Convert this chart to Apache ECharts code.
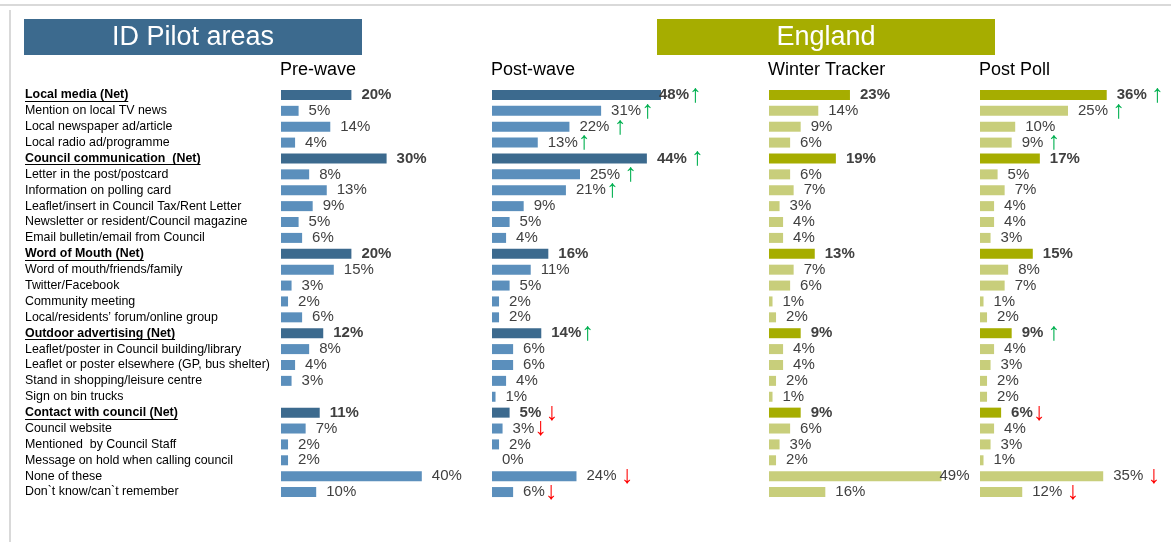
<!DOCTYPE html>
<html>
<head>
<meta charset="utf-8">
<script src="https://cdn.jsdelivr.net/npm/echarts@6/dist/echarts.min.js"></script>
<style>
  html, body { margin: 0; padding: 0; background: #fff; }
  #chart { width: 1171px; height: 542px; }
</style>
</head>
<body>
<div id="chart"></div>
<script>
// categories, top to bottom
const categories = [
  "Local media (Net)",
  "Mention on local TV news",
  "Local newspaper ad/article",
  "Local radio ad/programme",
  "Council communication  (Net)",
  "Letter in the post/postcard",
  "Information on polling card",
  "Leaflet/insert in Council Tax/Rent Letter",
  "Newsletter or resident/Council magazine",
  "Email bulletin/email from Council",
  "Word of Mouth (Net)",
  "Word of mouth/friends/family",
  "Twitter/Facebook",
  "Community meeting",
  "Local/residents\u2019 forum/online group",
  "Outdoor advertising (Net)",
  "Leaflet/poster in Council building/library",
  "Leaflet or poster elsewhere (GP, bus shelter)",
  "Stand in shopping/leisure centre",
  "Sign on bin trucks",
  "Contact with council (Net)",
  "Council website",
  "Mentioned  by Council Staff",
  "Message on hold when calling council",
  "None of these",
  "Don`t know/can`t remember"
];

const columnTitles = ["Pre-wave", "Post-wave", "Winter Tracker", "Post Poll"];

const preWave    = [20, 5, 14, 4, 30, 8, 13, 9, 5, 6, 20, 15, 3, 2, 6, 12, 8, 4, 3, null, 11, 7, 2, 2, 40, 10];
const postWave   = [48, 31, 22, 13, 44, 25, 21, 9, 5, 4, 16, 11, 5, 2, 2, 14, 6, 6, 4, 1, 5, 3, 2, 0, 24, 6];
const winter     = [23, 14, 9, 6, 19, 6, 7, 3, 4, 4, 13, 7, 6, 1, 2, 9, 4, 4, 2, 1, 9, 6, 3, 2, 49, 16];
const postPoll   = [36, 25, 10, 9, 17, 5, 7, 4, 4, 3, 15, 8, 7, 1, 2, 9, 4, 3, 2, 2, 6, 4, 3, 1, 35, 12];

// significance markers after the labels ("" = none)
const preWaveSig  = Array(26).fill("");
const postWaveSig = ["\u2191", "\u2191", " \u2191", "\u2191", " \u2191", " \u2191", "\u2191", "", "", "", "", "", "", "", "", "\u2191", "", "", "", "", " \u2193", "\u2193", "", "", " \u2193", "\u2193"];
const winterSig   = Array(26).fill("");
const postPollSig = [" \u2191", " \u2191", "", " \u2191", "", "", "", "", "", "", "", "", "", "", "", " \u2191", "", "", "", "", "\u2193", "", "", "", " \u2193", " \u2193"];

const FONT = "'Liberation Sans', Arial, sans-serif";
const isNet = (i) => categories[i].indexOf("(Net)") >= 0;

const colLeft = [281, 492, 769, 980];
const GRID_TOP = 87, GRID_H = 413, GRID_W = 176, AXIS_MAX = 50;

const blueDark = "#3c6a8e", blueLight = "#5b8fbc";
const oliveDark = "#a6ad00", oliveLight = "#c8ce7b";

const seriesData = [preWave, postWave, winter, postPoll];
const seriesSig = [preWaveSig, postWaveSig, winterSig, postPollSig];
const seriesColors = [[blueDark, blueLight], [blueDark, blueLight], [oliveDark, oliveLight], [oliveDark, oliveLight]];

const chart = echarts.init(document.getElementById("chart"));

const option = {
  animation: false,
  backgroundColor: "#fff",
  grid: colLeft.map(l => ({ left: l, top: GRID_TOP, width: GRID_W, height: GRID_H })),
  xAxis: colLeft.map((l, k) => ({
    type: "value", gridIndex: k, min: 0, max: AXIS_MAX, show: false
  })),
  yAxis: colLeft.map((l, k) => ({
    type: "category", gridIndex: k, inverse: true, data: categories,
    show: k === 0,
    axisLine: { show: false }, axisTick: { show: false }, splitLine: { show: false },
    axisLabel: {
      show: k === 0,
      align: "left",
      margin: 256,
      fontFamily: FONT, fontSize: 12.4, color: "#000",
      formatter: (v) => v.indexOf("(Net)") >= 0 ? "{b|" + v + "}" : v,
      rich: { b: { fontWeight: "bold", fontFamily: FONT, fontSize: 12.4, color: "#000" } }
    }
  })),
  series: seriesData.map((data, k) => ({
    type: "bar",
    xAxisIndex: k, yAxisIndex: k,
    barWidth: 10,
    // long bars get their label pulled in to the bar end
    data: data.map(v => (v !== null && v >= 45) ? { value: v, label: { distance: -2 } } : v),
    itemStyle: {
      color: (p) => isNet(p.dataIndex) ? seriesColors[k][0] : seriesColors[k][1]
    },
    label: {
      show: true,
      position: "right",
      distance: 10,
      fontFamily: FONT,
      formatter: (p) => {
        const style = isNet(p.dataIndex) ? "vb" : "v";
        const sig = seriesSig[k][p.dataIndex];
        let s = "{" + style + "|" + p.value + "%}";
        if (sig) {
          const sp = sig.charAt(0) === " " ? "{sp| }" : "";
          const ar = sig.trim();
          s += sp + "{" + (ar === "\u2191" ? "up" : "dn") + "|" + ar + "}";
        }
        return s;
      },
      rich: {
        v: { fontFamily: FONT, fontSize: 15, color: "#404040" },
        vb: { fontFamily: FONT, fontSize: 15, fontWeight: "bold", color: "#404040" },
        sp: { fontFamily: FONT, fontSize: 15 },
        up: { fontFamily: FONT, fontSize: 25, color: "#00b050", verticalAlign: "middle" },
        dn: { fontFamily: FONT, fontSize: 25, color: "#ff0000", verticalAlign: "middle" }
      }
    }
  })),
  graphic: []
};

chart.setOption(option);

// frame, banners, column headers, underlines for the Net rows
const g = [
  { type: "line", shape: { x1: 0, y1: 5, x2: 1171, y2: 5 }, style: { stroke: "#d9d9d9", lineWidth: 2 } },
  { type: "line", shape: { x1: 10, y1: 10, x2: 10, y2: 542 }, style: { stroke: "#d9d9d9", lineWidth: 2 } },
  { type: "rect", shape: { x: 24, y: 19, width: 338, height: 36 }, style: { fill: blueDark } },
  { type: "text", x: 193, y: 38, style: { text: "ID Pilot areas", fill: "#fff", font: "27px " + FONT, textAlign: "center", textVerticalAlign: "middle" } },
  { type: "rect", shape: { x: 657, y: 19, width: 338, height: 36 }, style: { fill: oliveDark } },
  { type: "text", x: 826, y: 38, style: { text: "England", fill: "#fff", font: "27px " + FONT, textAlign: "center", textVerticalAlign: "middle" } }
];
columnTitles.forEach((t, k) => {
  g.push({ type: "text", x: colLeft[k] - 1, y: 70, style: { text: t, fill: "#000", font: "18px " + FONT, textAlign: "left", textVerticalAlign: "middle" } });
});

const ctx = document.createElement("canvas").getContext("2d");
ctx.font = "bold 12.4px " + FONT;
categories.forEach((c, i) => {
  if (!isNet(i)) return;
  const y = Math.round(chart.convertToPixel({ yAxisIndex: 0 }, c)) + 6.5;
  const w = ctx.measureText(c).width;
  g.push({ type: "line", shape: { x1: colLeft[0] - 256, y1: y, x2: colLeft[0] - 256 + w, y2: y }, style: { stroke: "#000", lineWidth: 1 } });
});

chart.setOption({ graphic: g });
</script>
</body>
</html>
